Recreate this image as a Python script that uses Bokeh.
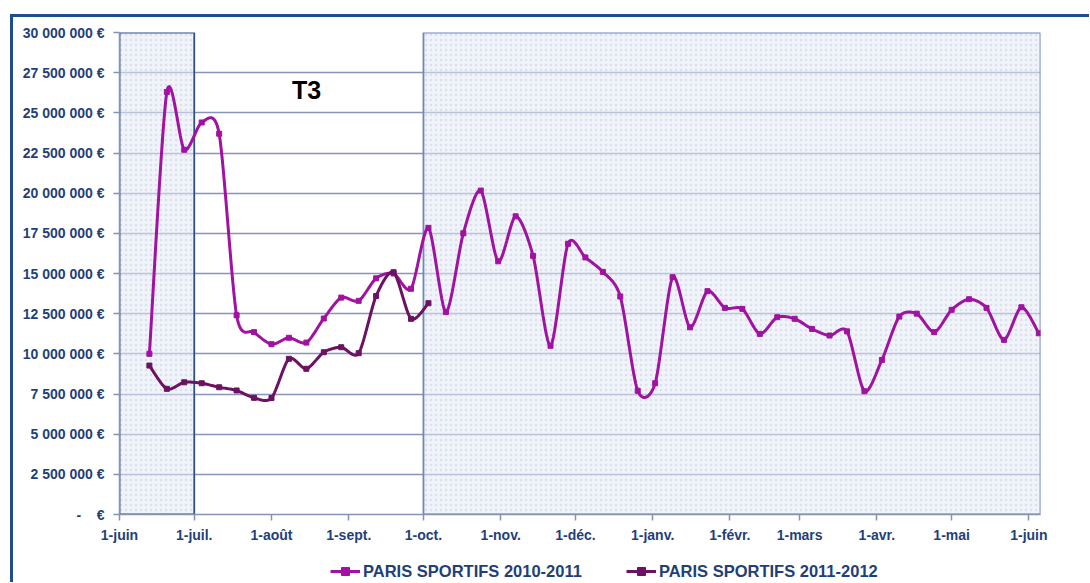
import numpy as np
import pandas as pd
from bokeh.plotting import figure
from bokeh.layouts import column
from bokeh.models import (Range1d, FixedTicker, Legend, LegendItem, Label,
                          ColumnDataSource)
from bokeh.embed import file_html
from bokeh.resources import INLINE

# ---------------- data ----------------
week_start = "2010-06-13"          # weekly points (Sundays)
paris_2010_2011_meur = [10.0, 26.3, 22.7, 24.4, 23.7, 12.4, 11.35, 10.6, 11.0, 10.7,
                        12.2, 13.5, 13.3, 14.7, 15.0, 14.05, 17.84, 12.6, 17.5, 20.16,
                        15.76, 18.56, 16.1, 10.5, 16.85, 16.0, 15.1, 13.57, 7.7, 8.17,
                        14.77, 11.65, 13.9, 12.86, 12.8, 11.24, 12.28, 12.18, 11.55, 11.14,
                        11.4, 7.67, 9.62, 12.32, 12.5, 11.35, 12.74, 13.4, 12.86, 10.87,
                        12.9, 11.28]
paris_2011_2012_meur = [9.27, 7.82, 8.23, 8.17, 7.92, 7.72, 7.26, 7.25, 9.69, 9.07,
                        10.1, 10.41, 10.04, 13.6, 15.08, 12.18, 13.15]
series_names = ["PARIS SPORTIFS 2010-2011", "PARIS SPORTIFS 2011-2012"]

month_ticks = ["2010-06-01", "2010-07-01", "2010-08-01", "2010-09-01", "2010-10-01",
               "2010-11-01", "2010-12-01", "2011-01-01", "2011-02-01", "2011-03-01",
               "2011-04-01", "2011-05-01", "2011-06-01"]
month_labels = ["1-juin", "1-juil.", "1-août", "1-sept.", "1-oct.", "1-nov.", "1-déc.",
                "1-janv.", "1-févr.", "1-mars", "1-avr.", "1-mai", "1-juin"]
y_ticks = [0, 2500000, 5000000, 7500000, 10000000, 12500000, 15000000, 17500000,
           20000000, 22500000, 25000000, 27500000, 30000000]
y_labels = ["-\u00a0\u00a0\u00a0\u00a0€", "2 500 000 €", "5 000 000 €", "7 500 000 €",
            "10 000 000 €", "12 500 000 €", "15 000 000 €", "17 500 000 €",
            "20 000 000 €", "22 500 000 €", "25 000 000 €", "27 500 000 €", "30 000 000 €"]
shaded_left = ["2010-06-01", "2010-10-01"]
shaded_right = ["2010-07-01", "2011-06-05 16:00"]
period_label = "T3"

# ---------------- helpers ----------------
def ms(s):
    return pd.Timestamp(s).value / 1e6

def smooth(xs, ys, n=16, s=0.8):
    P = np.column_stack([xs, ys]).astype(float)
    P = np.vstack([P[0], P, P[-1]])
    out = []
    t = np.linspace(0, 1, n, endpoint=False)[:, None]
    h00 = 2 * t**3 - 3 * t**2 + 1
    h10 = t**3 - 2 * t**2 + t
    h01 = -2 * t**3 + 3 * t**2
    h11 = t**3 - t**2
    for i in range(1, len(P) - 2):
        p0, p1, p2, p3 = P[i - 1], P[i], P[i + 1], P[i + 2]
        m1 = s * (p2 - p0) / 2
        m2 = s * (p3 - p1) / 2
        out.append(h00 * p1 + h10 * m1 + h01 * p2 + h11 * m2)
    out.append(P[-2][None, :])
    a = np.vstack(out)
    return a[:, 0], a[:, 1]

dates = pd.date_range(week_start, periods=len(paris_2010_2011_meur), freq="7D")
x1 = np.array([d.value / 1e6 for d in dates])
y1 = np.array(paris_2010_2011_meur) * 1e6
x2 = x1[:len(paris_2011_2012_meur)]
y2 = np.array(paris_2011_2012_meur) * 1e6

TXT = "#1F3F7A"
AX = "#8592B2"
C1 = "#A012A0"
C2 = "#6B1262"
FRAME = "#1F4E8C"

x_start = ms(shaded_left[0])
x_end = ms(shaded_right[-1])
xr = Range1d(x_start, x_end)

p = figure(width=1076, height=530, x_axis_type="datetime",
           x_range=xr, y_range=Range1d(0, 30e6),
           output_backend="svg", toolbar_location=None,
           min_border_left=106, min_border_right=49, min_border_top=15,
           min_border_bottom=33)
p.outline_line_color = None
p.background_fill_color = "white"

# shaded periods
src_q = ColumnDataSource(dict(left=[ms(s) for s in shaded_left],
                              right=[ms(s) for s in shaded_right],
                              bottom=[0, 0], top=[30e6, 30e6],
                              edge=["#2F4F88", "#6F88B8"]))
p.quad(left="left", right="right", bottom="bottom", top="top", source=src_q,
       fill_color="#E4EAF4", fill_alpha=0.55,
       hatch_pattern="dot", hatch_color="#BCC6DA", hatch_alpha=0.4, hatch_scale=5,
       line_color="edge", line_width=1.8)

# grid
p.xgrid.visible = False
p.ygrid.grid_line_color = "#8A94B6"
p.ygrid.grid_line_width = 1.5

# series
sx1, sy1 = smooth(x1, y1)
sx2, sy2 = smooth(x2, y2)
p.line(sx1, sy1, line_color=C1, line_width=3)
p.scatter(x1, y1, marker="square", size=5, color=C1)
p.line(sx2, sy2, line_color=C2, line_width=3)
p.scatter(x2, y2, marker="square", size=5, color=C2)

# axes
p.yaxis.ticker = FixedTicker(ticks=y_ticks)
p.yaxis.major_label_overrides = {t: l for t, l in zip(y_ticks, y_labels)}
p.xaxis.ticker = FixedTicker(ticks=[ms(s) for s in month_ticks])
p.xaxis.major_label_overrides = {ms(s): l for s, l in zip(month_ticks, month_labels)}
for ax in (p.xaxis[0], p.yaxis[0]):
    ax.axis_line_color = AX
    ax.axis_line_width = 1.5
    ax.major_tick_line_color = AX
    ax.major_tick_line_width = 1.5
    ax.major_tick_out = 6
    ax.major_tick_in = 0
    ax.minor_tick_line_color = None
    ax.major_label_text_font = "Liberation Sans"
    ax.major_label_text_font_style = "bold"
    ax.major_label_text_font_size = "14px"
    ax.major_label_text_color = TXT
p.yaxis.major_label_standoff = 9
p.xaxis.major_label_standoff = 6

# period label
p.add_layout(Label(x=ms("2010-08-15 02:00"), y=26.42e6, text=period_label,
                   text_font="Liberation Sans", text_font_style="bold",
                   text_font_size="25px", text_color="black",
                   text_align="center", text_baseline="middle"))

# ---------------- legend strip (same series, out of view) ----------------
pl = figure(width=1076, height=35, x_range=xr, y_range=Range1d(-2e6, -1e6),
            output_backend="svg", toolbar_location=None,
            min_border_left=106, min_border_right=49, min_border_top=0,
            min_border_bottom=0)
pl.axis.visible = False
pl.grid.visible = False
pl.outline_line_color = None
ll1 = pl.line(sx1, sy1, line_color=C1, line_width=3)
lm1 = pl.scatter(x1, y1, marker="square", size=5, color=C1)
ll2 = pl.line(sx2, sy2, line_color=C2, line_width=3)
lm2 = pl.scatter(x2, y2, marker="square", size=5, color=C2)

legend = Legend(items=[LegendItem(label=series_names[0], renderers=[ll1, lm1]),
                       LegendItem(label=series_names[1], renderers=[ll2, lm2])],
                orientation="horizontal", location=(211, 1),
                label_text_font="Liberation Sans", label_text_font_style="bold",
                label_text_font_size="16.5px", label_text_color=TXT,
                glyph_width=30, glyph_height=20, label_height=20,
                label_standoff=3, spacing=44, padding=0, margin=0,
                background_fill_alpha=0, border_line_alpha=0)
pl.add_layout(legend)

layout = column(p, pl, spacing=0,
                styles={"margin-left": "10px", "margin-top": "14px",
                        "border-left": "3px solid " + FRAME,
                        "border-top": "3px solid " + FRAME})

open("out.html", "w").write(file_html(layout, INLINE))
